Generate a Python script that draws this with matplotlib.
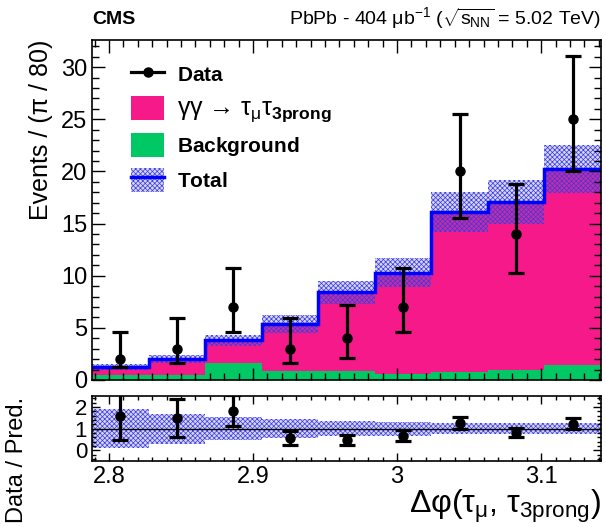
import numpy as np
import matplotlib.pyplot as plt
from matplotlib.patches import Patch
from matplotlib.lines import Line2D
from matplotlib.ticker import MultipleLocator

plt.rcParams['font.family'] = ['Liberation Sans', 'DejaVu Sans']
plt.rcParams['mathtext.fontset'] = 'custom'
plt.rcParams['mathtext.rm'] = 'Liberation Sans'
plt.rcParams['mathtext.it'] = 'Liberation Sans'
plt.rcParams['mathtext.bf'] = 'Liberation Sans:bold'
plt.rcParams['hatch.linewidth'] = 0.5

# 9 bins of width pi/80 ending at pi
edges = np.pi * np.arange(71, 81) / 80.0
centers = 0.5 * (edges[:-1] + edges[1:])

data = [2, 3, 7, 3, 4, 7, 20, 14, 25]
data_lo = [0.71, 1.37, 2.42, 1.37, 1.91, 2.42, 4.43, 3.7, 4.97]
data_hi = [2.64, 2.92, 3.77, 2.92, 3.16, 3.77, 5.55, 4.83, 6.07]

background = [0.5, 0.5, 1.6, 0.85, 0.85, 0.6, 0.8, 1.0, 1.4]
signal = [0.75, 1.5, 2.2, 4.5, 7.55, 9.7, 15.3, 16.1, 18.8]
total_err = [0.3, 0.4, 0.5, 0.85, 1.1, 1.4, 1.9, 2.1, 2.3]
ratio_band = [0.9, 0.7, 0.53, 0.43, 0.34, 0.33, 0.26, 0.26, 0.25]

bkg = np.array(background)
tot = bkg + np.array(signal)
terr = np.array(total_err)
ratio = np.array(data) / tot
ratio_err = np.sqrt(data) / tot

pink = '#f5198a'
green = '#00c864'
blue = '#0000ff'
band_col = '#3a3ae0'
band_fill = (0.35, 0.35, 0.9, 0.25)
band_hatch = 'xxxxxxx'

fig = plt.figure(figsize=(6.06, 5.27), dpi=100)
ax = fig.add_axes([0.1518, 0.279, 0.840, 0.645])
rax = fig.add_axes([0.1518, 0.125, 0.840, 0.123])

ax.stairs(bkg, edges, baseline=0, fill=True, color=green, lw=0)
ax.stairs(tot, edges, baseline=bkg, fill=True, color=pink, lw=0)
ax.stairs(tot + terr, edges, baseline=tot - terr, fill=True, facecolor=band_fill,
          edgecolor=band_col, hatch=band_hatch, lw=0)
ax.stairs(tot, edges, baseline=None, color=blue, lw=2.5)
ax.errorbar(centers, data, yerr=[data_lo, data_hi], fmt='o', color='black',
            ms=6.5, elinewidth=2.3, capsize=5.5, capthick=2.3)

ax.set_xlim(edges[0], edges[-1])
ax.set_ylim(0, 32.6)
ax.set_ylabel('Events / (π / 80)', fontsize=18, loc='top', labelpad=6)
ax.tick_params(labelbottom=False)

rax.stairs(1 + np.array(ratio_band), edges, baseline=1 - np.array(ratio_band),
           fill=True, facecolor=band_fill, edgecolor=band_col, hatch=band_hatch, lw=0)
rax.axhline(1, color='black', lw=1)
rax.errorbar(centers, ratio, yerr=ratio_err, fmt='o', color='black',
             ms=6.5, elinewidth=2.3, capsize=5.5, capthick=2.3)
rax.set_xlim(edges[0], edges[-1])
rax.set_ylim(-0.5, 2.5)
rax.set_ylabel('Data / Pred.', fontsize=17, loc='bottom', labelpad=8)
rax.yaxis.set_label_coords(-0.125, -0.95)
rax.set_xlabel(r'$\Delta\varphi(\tau_{\mu},\,\tau_{3prong})$', fontsize=23, loc='right', labelpad=0)

for a in (ax, rax):
    a.xaxis.set_major_locator(MultipleLocator(0.1))
    a.xaxis.set_minor_locator(MultipleLocator(0.01))
    a.tick_params(which='both', direction='in', top=True, right=True, labelsize=17)
    a.tick_params(which='major', length=9, width=1)
    a.tick_params(which='minor', length=5, width=1)
    for s in a.spines.values():
        s.set_linewidth(1.2)
ax.yaxis.set_major_locator(MultipleLocator(5))
ax.yaxis.set_minor_locator(MultipleLocator(1))
rax.yaxis.set_major_locator(MultipleLocator(1))
rax.yaxis.set_minor_locator(MultipleLocator(0.2))
rax.tick_params(axis='y', labelsize=16)
rax.tick_params(which='major', length=6)
rax.tick_params(which='minor', length=3)
rax.set_xticks([2.8, 2.9, 3.0, 3.1], ['2.8', '2.9', '3', '3.1'])

handles = [
    Line2D([], [], color='black', marker='o', ms=6.5, lw=2.3),
    Patch(facecolor=pink, edgecolor='none'),
    Patch(facecolor=green, edgecolor='none'),
    (Patch(facecolor=band_fill, edgecolor=band_col, hatch=band_hatch, lw=0),
     Line2D([], [], color=blue, lw=2.5)),
]
labels = [r'$\mathbf{Data}$', r'γγ → $\tau_{\mu}\tau_{\mathbf{3prong}}$',
          r'$\mathbf{Background}$', r'$\mathbf{Total}$']
leg = ax.legend(handles, labels, loc='upper left', bbox_to_anchor=(0.04, 0.99),
                frameon=False, fontsize=15, handlelength=1.6, handleheight=1.4,
                labelspacing=0.45, handletextpad=0.6)
leg.get_texts()[1].set_fontsize(18)

fig.text(0.1518, 0.955, 'CMS', fontsize=14, fontweight='bold', ha='left', va='baseline')
fig.text(0.992, 0.955, r'PbPb - 404 μb$^{-1}$ ($\sqrt{s_{NN}}$ = 5.02 TeV)',
         fontsize=14, ha='right', va='baseline')

fig.savefig('out.png', dpi=100)
